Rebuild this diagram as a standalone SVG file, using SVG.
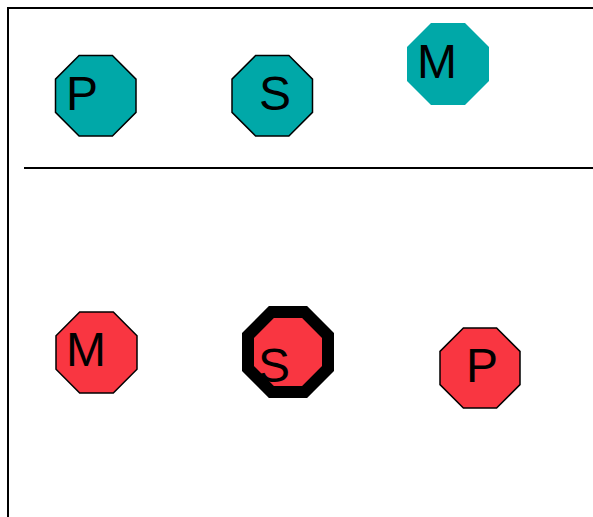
<svg xmlns="http://www.w3.org/2000/svg" width="593" height="517" viewBox="0 0 593 517">
<style>
.teal{fill:#00a8a8}
.red{fill:#f93641}
.thin{stroke:#000;stroke-width:1.5}
.lbl{font-family:"Liberation Sans",Arial,sans-serif;font-size:48px;fill:#000}
.line{stroke:#000;stroke-width:2;fill:none}
</style>
<rect width="593" height="517" fill="#fff"/>
<path class="line" d="M8,517 V8 H593"/>
<path class="line" d="M24,168 H593"/>
<g id="top-P">
<polygon class="teal thin" points="79.1,55.5 112.4,55.5 136,79.1 136,112.4 112.4,136 79.1,136 55.5,112.4 55.5,79.1"/>
<text class="lbl" x="66" y="110">P</text>
</g>
<g id="top-S">
<polygon class="teal thin" points="255.6,55.5 288.9,55.5 312.5,79.1 312.5,112.4 288.9,136 255.6,136 232,112.4 232,79.1"/>
<text class="lbl" x="275" y="110" text-anchor="middle">S</text>
</g>
<g id="top-M">
<polygon class="teal" points="431,23 465,23 489,47 489,81 465,105 431,105 407,81 407,47"/>
<text class="lbl" x="417" y="78">M</text>
</g>
<g id="bottom-M">
<polygon class="red thin" points="79.7,312 113.3,312 137,335.7 137,369.3 113.3,393 79.7,393 56,369.3 56,335.7"/>
<text class="lbl" x="66" y="366">M</text>
</g>
<g id="bottom-S">
<polygon class="red" stroke="#000" stroke-width="12" points="271.4,312 304.6,312 328,335.4 328,368.6 304.6,392 271.4,392 248,368.6 248,335.4"/>
<text class="lbl" x="274" y="382" text-anchor="middle">S</text>
</g>
<g id="bottom-P">
<polygon class="red thin" points="463.4,328 496.6,328 520,351.4 520,384.6 496.6,408 463.4,408 440,384.6 440,351.4"/>
<text class="lbl" x="466" y="382">P</text>
</g>
<g id="connectors"></g>
</svg>
